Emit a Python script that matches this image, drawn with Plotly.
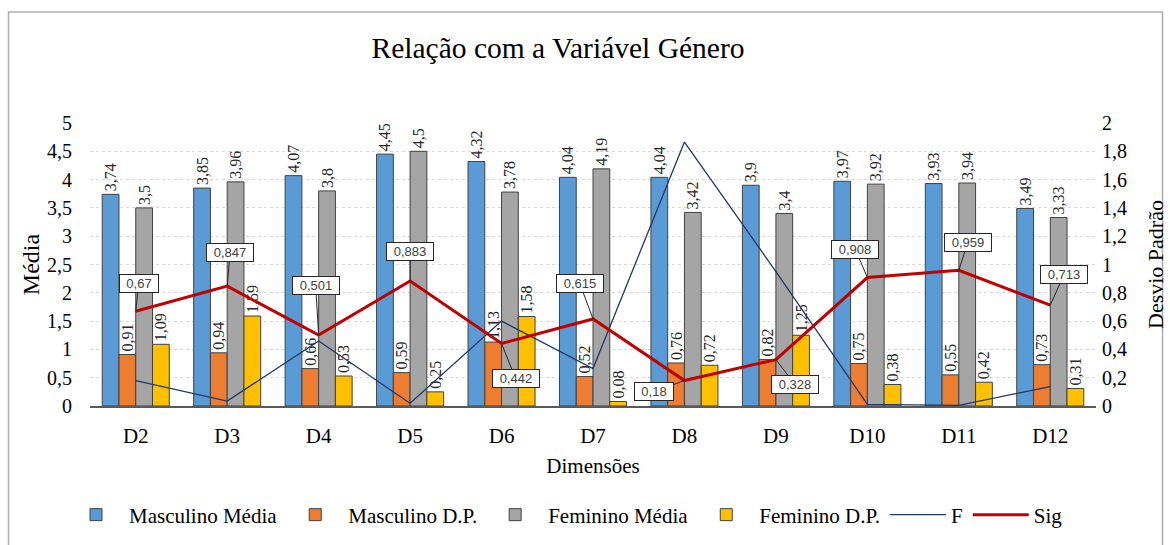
import plotly.graph_objects as go

categories = ["D2", "D3", "D4", "D5", "D6", "D7", "D8", "D9", "D10", "D11", "D12"]
masc_media = [3.74, 3.85, 4.07, 4.45, 4.32, 4.04, 4.04, 3.9, 3.97, 3.93, 3.49]
masc_dp = [0.91, 0.94, 0.66, 0.59, 1.13, 0.52, 0.76, 0.82, 0.75, 0.55, 0.73]
fem_media = [3.5, 3.96, 3.8, 4.5, 3.78, 4.19, 3.42, 3.4, 3.92, 3.94, 3.33]
fem_dp = [1.09, 1.59, 0.53, 0.25, 1.58, 0.08, 0.72, 1.25, 0.38, 0.42, 0.31]
f_vals = [0.18, 0.035, 0.46, 0.02, 0.6, 0.265, 1.865, 0.95, 0.012, 0.005, 0.137]
sig_vals = [0.67, 0.847, 0.501, 0.883, 0.442, 0.615, 0.18, 0.328, 0.908, 0.959, 0.713]
sig_label_offsets = [(3, -28), (3, -34), (-3, -50), (0, -30), (14, 35), (-13, -35),
                     (-30, 11), (19, 25), (-12, -28), (9, -28), (14, -31)]

SERIF = "Liberation Serif, Times New Roman, serif"
SANS = "Liberation Sans, Arial, sans-serif"


def fmt(v):
    return str(v).replace(".", ",")


fig = go.Figure()
bar_specs = [
    ("Masculino Média", masc_media, "#5B9BD5"),
    ("Masculino D.P.", masc_dp, "#ED7D31"),
    ("Feminino Média", fem_media, "#A5A5A5"),
    ("Feminino D.P.", fem_dp, "#FFC000"),
]
for name, vals, col in bar_specs:
    fig.add_trace(go.Bar(
        x=categories, y=vals, name=name,
        marker=dict(color=col, line=dict(color="#404040", width=1)),
        text=[fmt(v) for v in vals], textposition="outside", textangle=-90,
        constraintext="none", cliponaxis=False,
        textfont=dict(family=SERIF, size=16, color="#262626"),
    ))

fig.add_trace(go.Scatter(x=categories, y=f_vals, name="F", yaxis="y2", mode="lines",
                         line=dict(color="#203864", width=1.3)))
fig.add_trace(go.Scatter(x=categories, y=sig_vals, name="Sig", yaxis="y2", mode="lines",
                         line=dict(color="#C00000", width=3)))

for c, s, (ax, ay) in zip(categories, sig_vals, sig_label_offsets):
    label = fmt(s)
    fig.add_annotation(
        x=c, y=s, xref="x", yref="y2", text=label, showarrow=True,
        arrowhead=0, arrowwidth=1, arrowcolor="#262626", ax=ax, ay=ay,
        bgcolor="white", bordercolor="#262626", borderwidth=1, borderpad=1,
        width=36 if len(label) <= 4 else 44,
        font=dict(family=SANS, size=13, color="#404040"),
    )

W, H = 1170, 545
pl, pr, pt, pb = 90, 1096, 123, 406
pw, ph = pr - pl, pb - pt
fig.add_shape(type="rect", xref="paper", yref="paper",
              x0=(8.5 - pl) / pw, x1=(1162.5 - pl) / pw,
              y0=(pb - 580) / ph, y1=(pb - 12) / ph,
              line=dict(color="#ADADAD", width=1.5), fillcolor="rgba(0,0,0,0)", layer="below")

fig.update_layout(
    width=W, height=H,
    margin=dict(l=pl, r=W - pr, t=pt, b=H - pb, autoexpand=False),
    paper_bgcolor="white", plot_bgcolor="white",
    separators=",.",
    barmode="group", bargap=0.267, bargroupgap=0,
    font=dict(family=SERIF, color="#000000"),
    title=dict(text="Relação com a Variável Género", x=558 / W, xref="container",
               xanchor="center", y=1 - 48 / H, yref="container", yanchor="middle",
               font=dict(family=SERIF, size=29.5, color="#000000")),
    xaxis=dict(showline=True, linecolor="#595959", linewidth=1.5, ticks="",
               automargin=False, ticklabelstandoff=10,
               tickfont=dict(family=SERIF, size=21),
               title=dict(text="Dimensões", font=dict(family=SERIF, size=21), standoff=11)),
    yaxis=dict(range=[0, 5], dtick=0.5, showgrid=True, gridcolor="#D9D9D9", griddash="dot",
               gridwidth=1, zeroline=False, showline=False, automargin=False,
               ticklabelstandoff=17,
               tickfont=dict(family=SERIF, size=20),
               title=dict(text="Média", font=dict(family=SERIF, size=24), standoff=0)),
    yaxis2=dict(range=[0, 2], dtick=0.2, overlaying="y", side="right", showgrid=False,
                zeroline=False, showline=False, automargin=False, ticklabelstandoff=5,
                tickfont=dict(family=SERIF, size=20),
                title=dict(text="Desvio Padrão", font=dict(family=SERIF, size=22), standoff=21)),
    legend=dict(orientation="h", x=63 / W, xref="container", xanchor="left",
                y=1 - 515 / H, yref="container", yanchor="middle", itemwidth=56,
                font=dict(family=SERIF, size=21), traceorder="normal"),
)

fig.write_html(
    "out.html",
    config={"displayModeBar": False},
    post_script="document.body.style.margin='0';"
                "document.body.style.overflow='hidden';"
                "document.documentElement.style.overflow='hidden';",
)
